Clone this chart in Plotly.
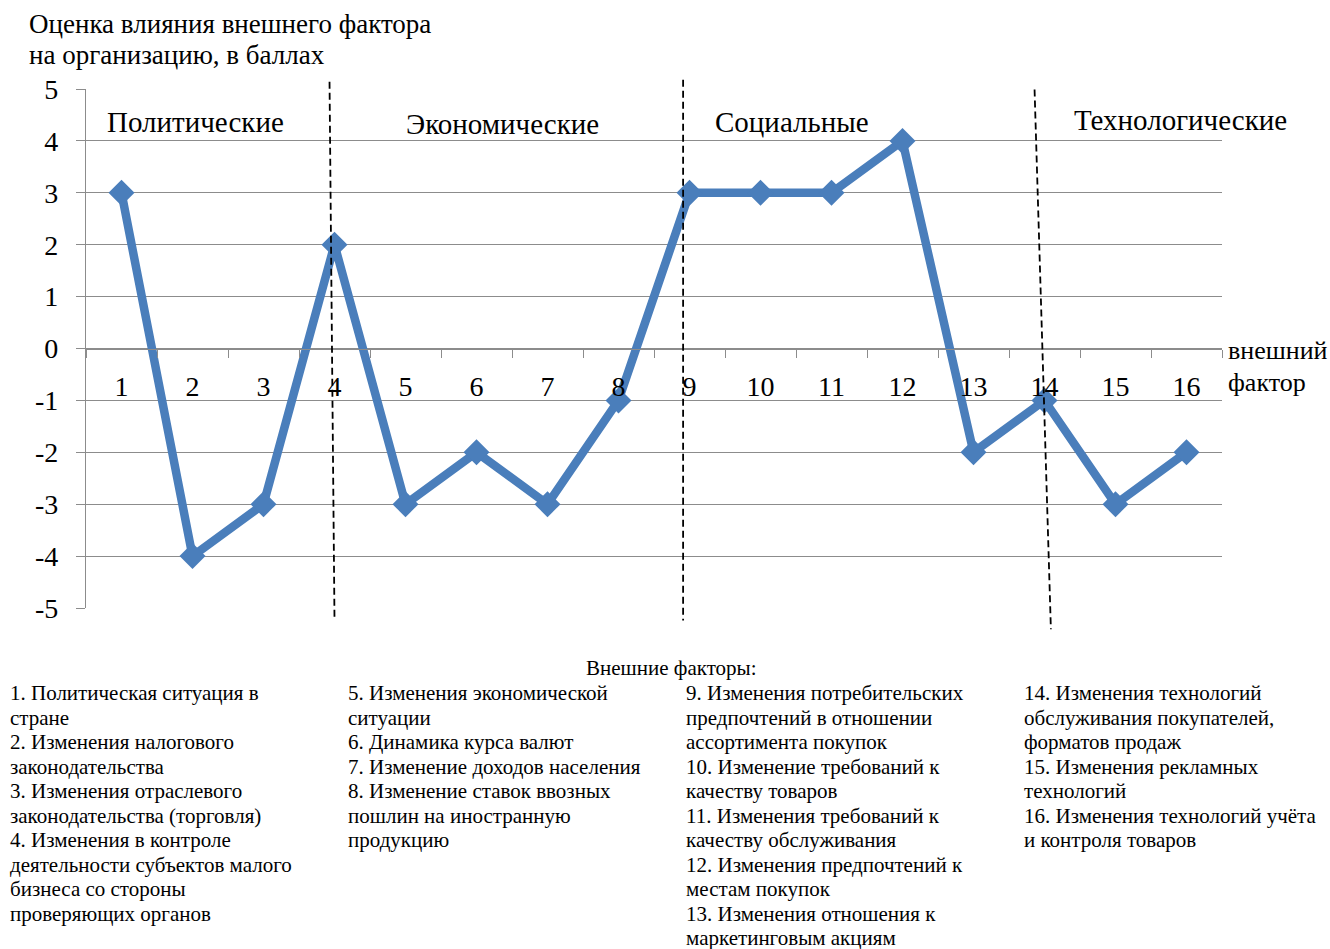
import plotly.graph_objects as go

# External factors (1..16) and their impact score
factors = [str(i) for i in range(1, 17)]
scores = [3, -4, -3, 2, -3, -2, -3, -1, 3, 3, 3, 4, -2, -1, -3, -2]

y_ticks = [5, 4, 3, 2, 1, 0, -1, -2, -3, -4, -5]
y_tick_text = ["5", "4", "3", "2", "1", "0", "-1", "-2", "-3", "-4", "-5"]

group_names = ["Политические", "Экономические", "Социальные", "Технологические"]

y_title = ["Оценка влияния внешнего фактора", "на организацию, в баллах"]
x_title = ["внешний", "фактор"]
legend_title = "Внешние факторы:"

legend_columns = [
    ["1. Политическая ситуация в", "стране", "2. Изменения налогового",
     "законодательства", "3. Изменения отраслевого",
     "законодательства (торговля)", "4. Изменения в контроле",
     "деятельности субъектов малого", "бизнеса со стороны",
     "проверяющих органов"],
    ["5. Изменения экономической", "ситуации", "6. Динамика курса валют",
     "7. Изменение доходов населения", "8. Изменение ставок ввозных",
     "пошлин на иностранную", "продукцию"],
    ["9. Изменения потребительских", "предпочтений в отношении",
     "ассортимента покупок", "10. Изменение требований к",
     "качеству товаров", "11. Изменения требований к",
     "качеству обслуживания", "12. Изменения предпочтений к",
     "местам покупок", "13. Изменения отношения к",
     "маркетинговым акциям"],
    ["14. Изменения технологий", "обслуживания покупателей,",
     "форматов продаж", "15. Изменения рекламных", "технологий",
     "16. Изменения технологий учёта", "и контроля товаров"],
]

FONT = "Liberation Serif"
LINE_COLOR = "#4a7ebb"
GRID = "#8c8c8c"

W, H = 1330, 949
L, R, T, B = 86, 1222, 89, 608


def px_x(p):
    return (p - L) / (R - L)


def px_y(p):
    return (B - p) / (B - T)


def cx(v):
    # 1-based factor number -> position on the category axis
    return v - 1


def yp(v):
    # score value -> paper fraction of the plot height
    return (v + 5) / 10


fig = go.Figure()
fig.add_trace(go.Scatter(
    x=factors, y=scores, mode="lines+markers",
    line=dict(color=LINE_COLOR, width=8.5),
    marker=dict(symbol="diamond", size=20, color=LINE_COLOR),
    showlegend=False, cliponaxis=False,
))

# dashed separators between factor groups
separators = [((3.93, 5.14), (4.0, -5.24)),
              ((8.91, 5.18), (8.91, -5.24)),
              ((13.86, 4.99), (14.09, -5.41))]
for (x0, y0), (x1, y1) in separators:
    fig.add_shape(type="line", x0=cx(x0), y0=yp(y0), x1=cx(x1), y1=yp(y1),
                  xref="x", yref="paper",
                  line=dict(color="black", width=1.8, dash="7px,4px"))

# group captions
group_pos = [(2.04, 4.37), (6.36, 4.32), (10.44, 4.37), (15.92, 4.41)]
for name, (gx, gy) in zip(group_names, group_pos):
    fig.add_annotation(x=cx(gx), y=gy, text=name, showarrow=False,
                       xref="x", yref="y",
                       font=dict(family=FONT, size=29, color="black"))


def text_line(txt, x, y, size, anchor="left"):
    fig.add_annotation(x=px_x(x), y=px_y(y), xref="paper", yref="paper",
                       text=txt, showarrow=False, xanchor=anchor,
                       yanchor="middle",
                       font=dict(family=FONT, size=size, color="black"))


# axis titles
for i, t in enumerate(y_title):
    text_line(t, 27, 24 + i * 31, 27)
for i, t in enumerate(x_title):
    text_line(t, 1226, 351 + i * 31, 26)

# legend block below the chart
text_line(legend_title, 671, 668, 21, anchor="center")
col_x = [8, 346, 684, 1022]
for cxp, lines in zip(col_x, legend_columns):
    for i, t in enumerate(lines):
        text_line(t, cxp, 693 + i * 24.5, 21)

fig.update_layout(
    width=W, height=H,
    margin=dict(l=L, r=W - R, t=T, b=H - B),
    paper_bgcolor="white", plot_bgcolor="white",
    xaxis=dict(type="category", range=[-0.5, 15.5], anchor="free", position=0.5,
               showline=True, linecolor=GRID, linewidth=1.2,
               ticks="outside", tickson="boundaries", ticklen=8, tickcolor=GRID,
               showgrid=False, zeroline=False, ticklabelstandoff=13,
               tickfont=dict(family=FONT, size=28, color="black")),
    yaxis=dict(range=[-5, 5], tickvals=y_ticks, ticktext=y_tick_text,
               showline=True, linecolor=GRID, linewidth=1.2,
               ticks="outside", ticklen=9, tickcolor=GRID,
               showgrid=True, gridcolor=GRID, gridwidth=1, zeroline=False,
               ticklabelstandoff=12,
               tickfont=dict(family=FONT, size=28, color="black")),
)

fig.write_html("out.html")
